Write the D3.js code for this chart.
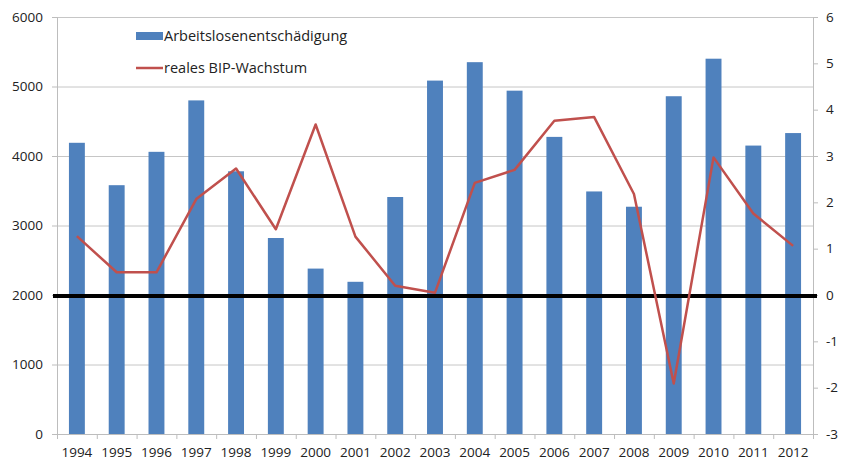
<!DOCTYPE html>
<html>
<head>
<meta charset="utf-8">
<script src="https://cdnjs.cloudflare.com/ajax/libs/d3/7.8.5/d3.min.js"></script>
<style>
    body { margin: 0; background: #fff; }
    svg text { font-family: "Open Sans", sans-serif; fill: #222; }
</style>
</head>
<body>
<svg id="chart" width="841" height="463"></svg>
<script>
const years = ['1994', '1995', '1996', '1997', '1998', '1999', '2000', '2001', '2002', '2003',
    '2004', '2005', '2006', '2007', '2008', '2009', '2010', '2011', '2012'];
const entschaedigung = [4190, 3580, 4060, 4800, 3780, 2820, 2380, 2190, 3410, 5085,
    5350, 4940, 4275, 3490, 3270, 4860, 5400, 4150, 4330];
const bipWachstum = [1.27, 0.49, 0.49, 2.07, 2.73, 1.42, 3.68, 1.26, 0.2, 0.05,
    2.42, 2.7, 3.76, 3.84, 2.18, -1.91, 2.97, 1.76, 1.06];
const leftTicks = [0, 1000, 2000, 3000, 4000, 5000, 6000];
const rightTicks = [-3, -2, -1, 0, 1, 2, 3, 4, 5, 6];
const legendItems = ['Arbeitslosenentschädigung', 'reales BIP-Wachstum'];

const svg = d3.select('#chart');
const margin = { top: 17, right: 28, bottom: 29, left: 57 };
const width = 841 - margin.left - margin.right;
const height = 463 - margin.top - margin.bottom;

const g = svg.append('g').attr('transform', `translate(${margin.left},${margin.top})`);

const x = d3.scaleBand().domain(years).range([0, width]).paddingInner(0.6).paddingOuter(0.3);
const xOuter = d3.scaleBand().domain(years).range([0, width]);
const yLeft = d3.scaleLinear().domain([0, 6000]).range([height, 0]);
const yRight = d3.scaleLinear().domain([-3, 6]).range([height, 0]);

// gridlines
g.append('g')
    .selectAll('line')
    .data(leftTicks.slice(1))
    .enter()
    .append('line')
    .attr('x1', 0)
    .attr('x2', width)
    .attr('y1', d => yLeft(d) + 0.5)
    .attr('y2', d => yLeft(d) + 0.5)
    .attr('stroke', '#c6c6c6')
    .attr('stroke-width', 1);

// left axis
const leftAxis = g.append('g')
    .call(d3.axisLeft(yLeft).tickValues(leftTicks).tickSize(5).tickPadding(9).tickFormat(d => String(d)));
leftAxis.selectAll('text').style('font-size', '13.5px');

// right axis (plain hyphen for negatives, like the original)
const rightAxis = g.append('g')
    .attr('transform', `translate(${width},0)`)
    .call(d3.axisRight(yRight).tickValues(rightTicks).tickSize(5).tickPadding(8).tickFormat(d => String(d)));
rightAxis.selectAll('text').style('font-size', '13.5px');

[leftAxis, rightAxis].forEach(a => {
    a.select('.domain').attr('stroke', '#bdbdbd');
    a.selectAll('.tick line').attr('stroke', '#bdbdbd');
});

// bars
g.append('g')
    .selectAll('.bar')
    .data(entschaedigung)
    .enter()
    .append('rect')
    .classed('bar', true)
    .attr('x', (d, i) => x(years[i]))
    .attr('width', x.bandwidth())
    .attr('y', d => yLeft(d))
    .attr('height', d => height - yLeft(d))
    .attr('fill', '#4f81bd');

// bottom axis
const bottomAxis = g.append('g')
    .attr('transform', `translate(0,${height})`)
    .call(d3.axisBottom(xOuter).tickSize(0).tickPadding(13));
bottomAxis.select('.domain').attr('stroke', '#bdbdbd');
bottomAxis.selectAll('text').style('font-size', '13.5px');
bottomAxis.selectAll('.boundary')
    .data(d3.range(years.length + 1))
    .enter()
    .append('line')
    .classed('boundary', true)
    .attr('x1', i => i * xOuter.step() + 0.5)
    .attr('x2', i => i * xOuter.step() + 0.5)
    .attr('y1', 0)
    .attr('y2', 5)
    .attr('stroke', '#bdbdbd');

// zero line (black)
g.append('line')
    .attr('x1', -4)
    .attr('x2', width + 4)
    .attr('y1', yRight(0) + 1)
    .attr('y2', yRight(0) + 1)
    .attr('stroke', '#000')
    .attr('stroke-width', 4);

// GDP line
const line = d3.line()
    .x((d, i) => xOuter(years[i]) + xOuter.bandwidth() / 2)
    .y(d => yRight(d));

g.append('path')
    .datum(bipWachstum)
    .attr('d', line)
    .attr('fill', 'none')
    .attr('stroke', '#c0504d')
    .attr('stroke-width', 2.5)
    .attr('stroke-linejoin', 'round');

// legend
const legend = svg.append('g').attr('transform', 'translate(136,36)');
const item = legend.selectAll('.item')
    .data(legendItems)
    .enter()
    .append('g')
    .classed('item', true)
    .attr('transform', (d, i) => `translate(0, ${i * 32})`);

item.filter((d, i) => i === 0)
    .append('rect')
    .attr('x', 0).attr('y', -4).attr('width', 27).attr('height', 8)
    .attr('fill', '#4f81bd');
item.filter((d, i) => i === 1)
    .append('line')
    .attr('x1', 0).attr('x2', 27).attr('y1', 0).attr('y2', 0)
    .attr('stroke', '#c0504d').attr('stroke-width', 2.5);
item.append('text')
    .attr('x', 28)
    .attr('y', 0)
    .attr('dy', '0.35em')
    .style('font-size', '14.5px')
    .text(d => d);
</script>
</body>
</html>
